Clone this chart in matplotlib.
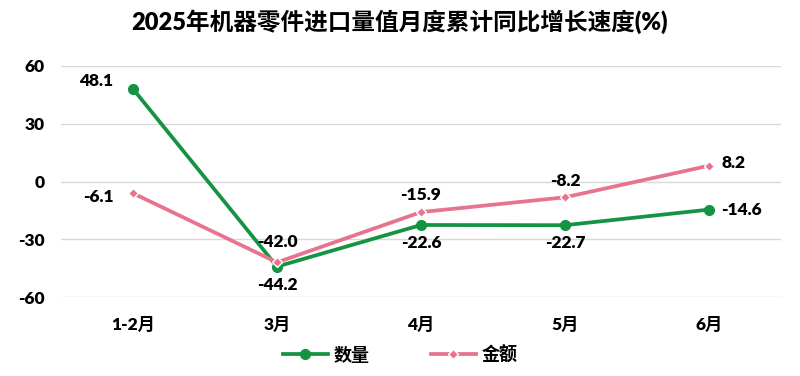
import numpy as np
import matplotlib
matplotlib.use("Agg")
from matplotlib import pyplot as plt

plt.rcParams['font.family'] = ['Lato', 'Noto Sans CJK SC', 'DejaVu Sans']
plt.rcParams['font.weight'] = 'heavy'

months = ["1-2月", "3月", "4月", "5月", "6月"]
qty = [48.1, -44.2, -22.6, -22.7, -14.6]
amt = [-6.1, -42.0, -15.9, -8.2, 8.2]
yticks = [-60, -30, 0, 30, 60]

GREEN = "#149443"
PINK = "#e8738f"

fig = plt.figure(figsize=(8, 3.76), dpi=100)
ax = fig.add_axes([61 / 800, 1 - 297 / 376, 720 / 800, 231 / 376])

x = np.arange(len(months))
ax.plot(x, qty, color=GREEN, lw=2.7, marker="o", ms=7, label="数量", zorder=3)
ax.plot(x, amt, color=PINK, lw=2.7, marker="D", ms=5.5, mec="white", mew=1,
        label="金额", zorder=4)

# data labels: (dx, dy, ha) in points
qty_pos = [(-14, 6, "right"), (0, -13, "center"), (0, -13, "center"),
           (0, -13, "center"), (9, 0, "left")]
amt_pos = [(-14, -3, "right"), (0, 15, "center"), (0, 12, "center"),
           (0, 12, "center"), (9, 2, "left")]
for vals, pos in ((qty, qty_pos), (amt, amt_pos)):
    for i, v in enumerate(vals):
        dx, dy, ha = pos[i]
        ax.annotate(f"{v:.1f}", (x[i], v), xytext=(dx, dy),
                    textcoords="offset points", ha=ha, va="center", fontsize=12.5,
                    fontweight="heavy")

ax.set_xlim(-0.5, len(months) - 0.5)
ax.set_ylim(-60, 60)
ax.set_yticks(yticks)
ax.set_yticklabels([str(t) for t in yticks], fontsize=12.5, fontweight="heavy")
ax.set_xticks(x)
ax.set_xticklabels(months, fontsize=12.5, fontweight="heavy")
ax.tick_params(axis="x", length=0, pad=14)
ax.tick_params(axis="y", length=0, pad=12)
ax.grid(axis="y", color="#d9d9d9", lw=1)
for s in ax.spines.values():
    s.set_visible(False)

fig.suptitle("2025年机器零件进口量值月度累计同比增长速度(%)", fontsize=17,
             fontweight="heavy", y=0.975)

fig.legend(loc="lower center", ncol=2, bbox_to_anchor=(0.5, -0.01), frameon=False,
           handlelength=2.5, columnspacing=3.4, handletextpad=0.3,
           prop={"weight": "heavy", "size": 13})

fig.savefig("out.png", dpi=100, facecolor="white")
